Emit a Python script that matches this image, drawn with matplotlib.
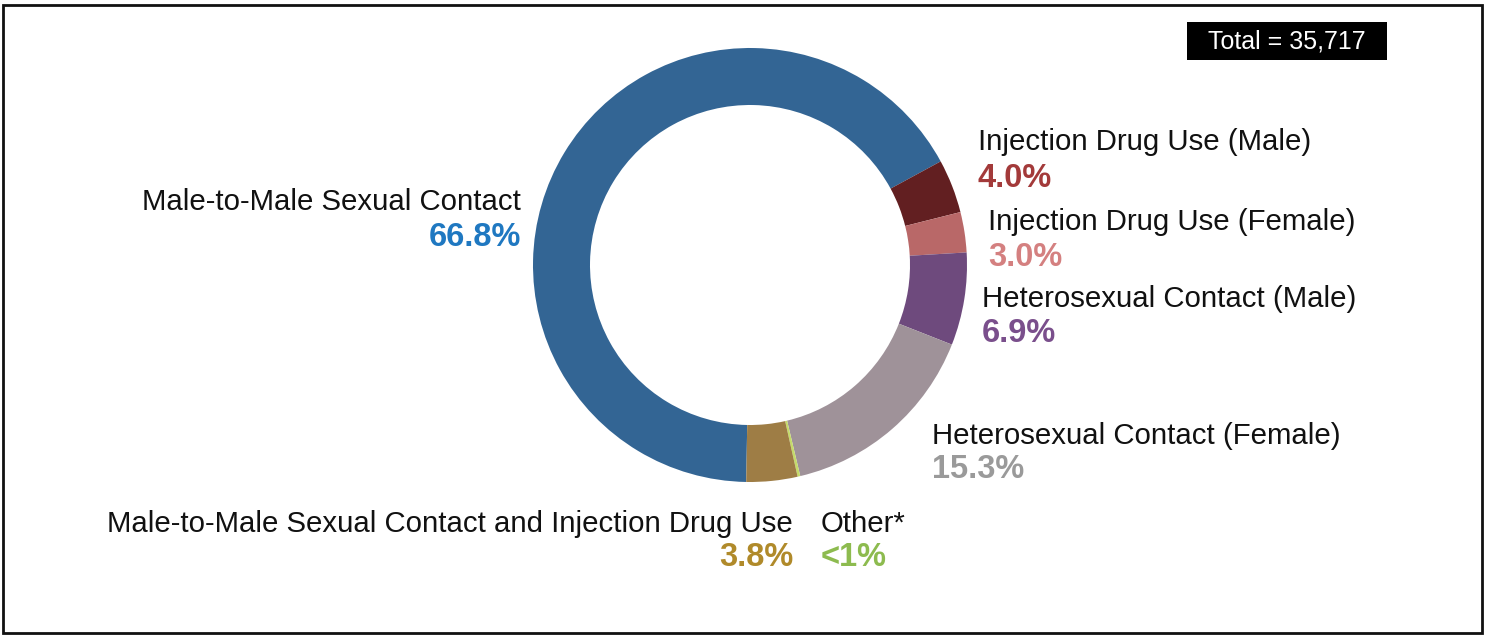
import matplotlib
matplotlib.use("Agg")
import matplotlib.pyplot as plt
from matplotlib.patches import Rectangle

plt.rcParams['font.family'] = ['Liberation Sans', 'DejaVu Sans']

# data
categories = ['Male-to-Male Sexual Contact', 'Injection Drug Use (Male)',
              'Injection Drug Use (Female)', 'Heterosexual Contact (Male)',
              'Heterosexual Contact (Female)', 'Other*',
              'Male-to-Male Sexual Contact and Injection Drug Use']
shares = [66.8, 4.0, 3.0, 6.9, 15.3, 0.2, 3.8]
pct_labels = ['66.8%', '4.0%', '3.0%', '6.9%', '15.3%', '<1%', '3.8%']
total_label = 'Total = 35,717'

wedge_colors = ['#336594', '#621f21', '#b96868', '#6e4a7d', '#9f9299', '#c5db6a', '#9e7d45']
text_colors = ['#1f78c1', '#a33a3a', '#d48080', '#7a4f8c', '#9a9a9a', '#8dbb4f', '#b08a2a']

W, H = 1485, 635
fig = plt.figure(figsize=(W / 100, H / 100), dpi=100)

def fx(x):
    return x / W

def fy(y):
    return 1 - y / H

# donut
cx, cy, r = 750, 265, 217
ax = fig.add_axes([fx(cx - r), fy(cy + r), 2 * r / W, 2 * r / H])
ax.pie(shares, colors=wedge_colors, startangle=269, counterclock=False,
       radius=1, wedgeprops=dict(width=57 / 217, linewidth=0))
ax.set_xlim(-1, 1)
ax.set_ylim(-1, 1)
ax.set_aspect('equal')
ax.axis('off')

# label positions in pixels: (x, name y, pct y, ha)
label_pos = [
    (521, 202, 238, 'right'),
    (978, 142, 178, 'left'),
    (988, 222, 257, 'left'),
    (982, 299, 333, 'left'),
    (932, 436, 469, 'left'),
    (821, 524, 557, 'left'),
    (793, 524, 557, 'right'),
]
for name, pct, col, (x, y1, y2, ha) in zip(categories, pct_labels, text_colors, label_pos):
    fig.text(fx(x), fy(y1), name, ha=ha, va='center', fontsize=21.2, color='#111111')
    fig.text(fx(x), fy(y2), pct, ha=ha, va='center', fontsize=23.5, color=col, weight='bold')

# total box
fig.patches.append(Rectangle((fx(1187), fy(60)), 200 / W, 38 / H, transform=fig.transFigure,
                             facecolor='black', edgecolor='none'))
fig.text(fx(1287), fy(42), total_label, ha='center', va='center', fontsize=18, color='white')

# outer frame
fig.patches.append(Rectangle((fx(3), fy(633)), 1479 / W, 628 / H, transform=fig.transFigure,
                             facecolor='none', edgecolor='#111111', linewidth=2))

fig.savefig('out.png', dpi=100)
